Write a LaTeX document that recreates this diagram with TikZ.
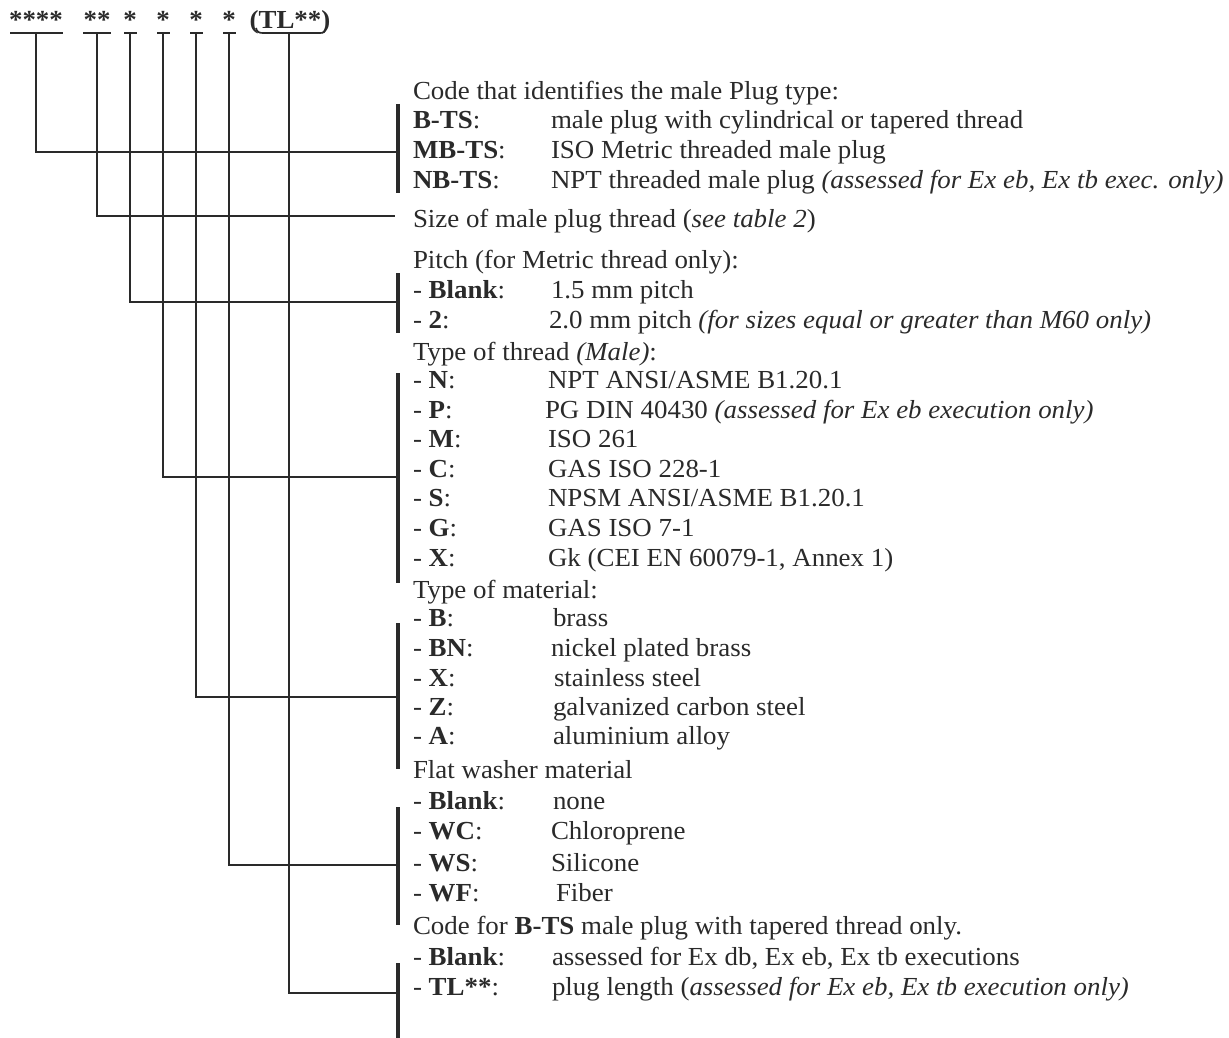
\documentclass[tikz,border=0pt]{standalone}
\usepackage{fontspec}
\setmainfont{Liberation Serif}[FakeStretch=1.035]
\definecolor{ink}{HTML}{2A2A2A}
\begin{document}
\begin{tikzpicture}[x=1pt,y=-1pt,
  every node/.style={inner sep=0pt, outer sep=0pt, text=ink, font=\fontsize{26}{30}\selectfont},
  txt/.style={anchor=base west},
  conn/.style={draw=ink, line width=1.7pt},
  brk/.style={draw=ink, line width=3.2pt},
  uline/.style={draw=ink, line width=1.7pt}]
\useasboundingbox (0,0) rectangle (1229,1038);
% ---- code string ----
\node[anchor=base] (k1) at (36,29) {\textbf{****}};
\node[anchor=base] (k2) at (97,29) {\textbf{**}};
\node[anchor=base] (k3) at (130,29) {\textbf{*}};
\node[anchor=base] (k4) at (163,29) {\textbf{*}};
\node[anchor=base] (k5) at (196,29) {\textbf{*}};
\node[anchor=base] (k6) at (229,29) {\textbf{*}};
\node[anchor=base] (k7) at (290,29) {\textbf{(TL**)}};
% underlines
\coordinate (u1) at (36,33);
\coordinate (u2) at (97,33);
\coordinate (u3) at (130,33);
\coordinate (u4) at (163,33);
\coordinate (u5) at (196,33);
\coordinate (u6) at (229,33);
\coordinate (u7) at (289,33);
\draw[uline] (10,33) -- (63,33);
\draw[uline] (83,33) -- (111,33);
\draw[uline] (124,33) -- (137,33);
\draw[uline] (157,33) -- (170,33);
\draw[uline] (190,33) -- (203,33);
\draw[uline] (223,33) -- (236,33);
\draw[uline] (256,28) .. controls (257,32) and (259,33) .. (263,33) -- (320,33) .. controls (324,33) and (325,32) .. (326,28);
% ---- brackets ----
\coordinate (b1) at (398,152);
\coordinate (e2) at (395,216);
\coordinate (b3) at (398,302);
\coordinate (b4) at (398,477);
\coordinate (b5) at (398,697);
\coordinate (b6) at (398,865);
\coordinate (b7) at (398,993);
\draw[brk] (398,104) -- (398,193);
\draw[brk] (398,273) -- (398,333);
\draw[brk] (398,373) -- (398,583);
\draw[brk] (398,623) -- (398,769);
\draw[brk] (398,807) -- (398,925);
\draw[brk] (398,963) -- (398,1038);
% ---- connectors ----
\draw[conn] (u1) |- (b1);
\draw[conn] (u2) |- (e2);
\draw[conn] (u3) |- (b3);
\draw[conn] (u4) |- (b4);
\draw[conn] (u5) |- (b5);
\draw[conn] (u6) |- (b6);
\draw[conn] (u7) |- (b7);
% ---- texts ----
\node[txt] (h1) at (413,100) {Code that identifies the male Plug type:};
\node[txt] (l1a) at (413,129) {\textbf{B-TS}:};
\node[txt] (v1a) at (551,129) {male plug with cylindrical or tapered thread};
\node[txt] (l1b) at (413,159) {\textbf{MB-TS}:};
\node[txt] (v1b) at (551,159) {ISO Metric threaded male plug};
\node[txt] (l1c) at (413,188) {\textbf{NB-TS}:};
\node[txt] (v1c) at (551,188) {NPT threaded male plug \textit{(assessed for Ex eb, Ex tb exec. only)}};
\node[txt] (h2) at (413,227) {Size of male plug thread (\textit{see table 2})};
\node[txt] (h3) at (413,268) {Pitch (for Metric thread only):};
\node[txt] (l3a) at (413,298) {- \textbf{Blank}:};
\node[txt] (v3a) at (551,298) {1.5 mm pitch};
\node[txt] (l3b) at (413,328) {- \textbf{2}:};
\node[txt] (v3b) at (549,328) {2.0 mm pitch \textit{(for sizes equal or greater than M60 only)}};
\node[txt] (h4) at (413,360) {Type of thread \textit{(Male)}:};
\node[txt] (l4a) at (413,388) {- \textbf{N}:};
\node[txt] (v4a) at (548,388) {NPT ANSI/ASME B1.20.1};
\node[txt] (l4b) at (413,418) {- \textbf{P}:};
\node[txt] (v4b) at (545,418) {PG DIN 40430 \textit{(assessed for Ex eb execution only)}};
\node[txt] (l4c) at (413,447) {- \textbf{M}:};
\node[txt] (v4c) at (548,447) {ISO 261};
\node[txt] (l4d) at (413,477) {- \textbf{C}:};
\node[txt] (v4d) at (548,477) {GAS ISO 228-1};
\node[txt] (l4e) at (413,506) {- \textbf{S}:};
\node[txt] (v4e) at (548,506) {NPSM ANSI/ASME B1.20.1};
\node[txt] (l4f) at (413,536) {- \textbf{G}:};
\node[txt] (v4f) at (548,536) {GAS ISO 7-1};
\node[txt] (l4g) at (413,566) {- \textbf{X}:};
\node[txt] (v4g) at (548,566) {Gk (CEI EN 60079-1, Annex 1)};
\node[txt] (h5) at (413,598) {Type of material:};
\node[txt] (l5a) at (413,626) {- \textbf{B}:};
\node[txt] (v5a) at (553,626) {brass};
\node[txt] (l5b) at (413,656) {- \textbf{BN}:};
\node[txt] (v5b) at (551,656) {nickel plated brass};
\node[txt] (l5c) at (413,686) {- \textbf{X}:};
\node[txt] (v5c) at (554,686) {stainless steel};
\node[txt] (l5d) at (413,715) {- \textbf{Z}:};
\node[txt] (v5d) at (553,715) {galvanized carbon steel};
\node[txt] (l5e) at (413,744) {- \textbf{A}:};
\node[txt] (v5e) at (553,744) {aluminium alloy};
\node[txt] (h6) at (413,778) {Flat washer material};
\node[txt] (l6a) at (413,809) {- \textbf{Blank}:};
\node[txt] (v6a) at (553,809) {none};
\node[txt] (l6b) at (413,839) {- \textbf{WC}:};
\node[txt] (v6b) at (551,839) {Chloroprene};
\node[txt] (l6c) at (413,871) {- \textbf{WS}:};
\node[txt] (v6c) at (551,871) {Silicone};
\node[txt] (l6d) at (413,901) {- \textbf{WF}:};
\node[txt] (v6d) at (556,901) {Fiber};
\node[txt] (h7) at (413,934) {Code for \textbf{B-TS} male plug with tapered thread only.};
\node[txt] (l7a) at (413,965) {- \textbf{Blank}:};
\node[txt] (v7a) at (552,965) {assessed for Ex db, Ex eb, Ex tb executions};
\node[txt] (l7b) at (413,995) {- \textbf{TL**}:};
\node[txt] (v7b) at (552,995) {plug length (\textit{assessed for Ex eb, Ex tb execution only)}};
\end{tikzpicture}
\end{document}
